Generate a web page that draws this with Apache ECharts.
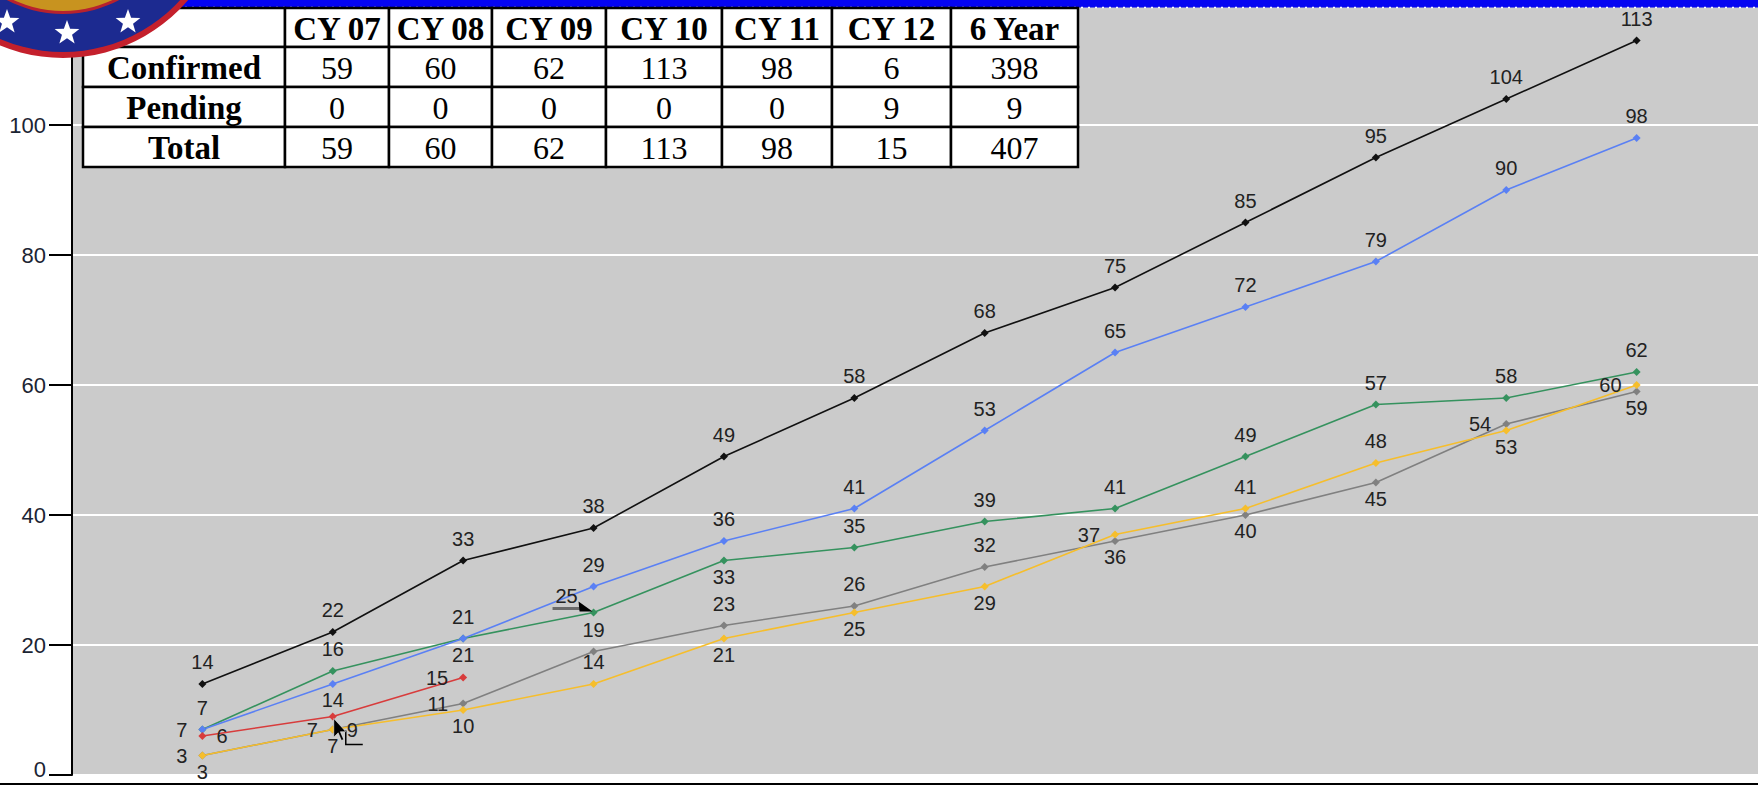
<!DOCTYPE html>
<html>
<head>
<meta charset="utf-8">
<script src="https://cdn.jsdelivr.net/npm/echarts@6/dist/echarts.min.js"></script>
<style>
html, body { margin: 0; padding: 0; background: #fff; }
#chart { width: 1758px; height: 785px; }
</style>
</head>
<body>
<div id="chart"></div>
<script>
// month index on the x axis
var months = [1, 2, 3, 4, 5, 6, 7, 8, 9, 10, 11, 12];
// cumulative counts per calendar year
var cy07 = [3, 7, 11, 19, 23, 26, 32, 36, 40, 45, 54, 59];
var cy08 = [3, 7, 10, 14, 21, 25, 29, 37, 41, 48, 53, 60];
var cy09 = [7, 16, 21, 25, 33, 35, 39, 41, 49, 57, 58, 62];
var cy10 = [14, 22, 33, 38, 49, 58, 68, 75, 85, 95, 104, 113];
var cy11 = [7, 14, 21, 29, 36, 41, 53, 65, 72, 79, 90, 98];
var cy12 = [6, 9, 15];

// summary table
var tableCols = ['CY 07', 'CY 08', 'CY 09', 'CY 10', 'CY 11', 'CY 12', '6 Year'];
var tableRows = ['Confirmed', 'Pending', 'Total'];
var confirmed = [59, 60, 62, 113, 98, 6, 398];
var pending = [0, 0, 0, 0, 0, 9, 9];
var total = [59, 60, 62, 113, 98, 15, 407];

// label side for each point: t top, b bottom, l left, r right, c callout
var seriesDefs = [
  {name: 'CY 07', values: cy07, color: '#808080', sides: 'bllttttbbblb'},
  {name: 'CY 08', values: cy08, color: '#f6be2c', sides: 'lbbtbbblttbl'},
  {name: 'CY 09', values: cy09, color: '#35925e', sides: 'ltbcbttttttt'},
  {name: 'CY 10', values: cy10, color: '#111111', sides: 'tttttttttttt'},
  {name: 'CY 11', values: cy11, color: '#5a80f4', sides: 'tbtttttttttt'},
  {name: 'CY 12', values: cy12, color: '#d83c3c', sides: 'rcl'}
];
var place = {
  t: {position: 'top', distance: 8},
  b: {position: 'bottom', distance: 2},
  l: {position: 'left', distance: 11},
  r: {position: 'right', distance: 10}
};
var callout = {
  'CY 09': {position: 'top', distance: 8, offset: [-27, 5]},
  'CY 12': {position: 'right', distance: 10, offset: [0, 13]}
};

var chart = echarts.init(document.getElementById('chart'), null, {renderer: 'svg'});

var option = {
  animation: false,
  grid: {
    left: 72, right: -9, top: -5, bottom: 10,
    show: true, backgroundColor: '#cbcbcb', borderWidth: 0,
    containLabel: false, outerBoundsMode: 'none'
  },
  xAxis: {type: 'value', min: 0, max: 13, show: false},
  yAxis: {
    type: 'value', min: 0, max: 120, interval: 20,
    axisLine: {show: true, lineStyle: {color: '#000', width: 2}},
    axisTick: {show: true, length: 23, lineStyle: {color: '#000', width: 2}},
    axisLabel: {
      margin: 26, color: '#1b2433', fontSize: 22, lineHeight: 17,
      fontFamily: 'Liberation Sans', showMaxLabel: false,
      // the bottom label sits a little higher so it stays inside the frame
      formatter: function (v) { return v === 0 ? '{z|0}' : String(v); },
      rich: {z: {fontSize: 22, lineHeight: 17, fontFamily: 'Liberation Sans', color: '#1b2433', padding: [0, 0, 12, 0]}}
    },
    splitLine: {show: true, lineStyle: {color: '#ffffff', width: 2}}
  },
  series: seriesDefs.map(function (s) {
    return {
      name: s.name,
      type: 'line',
      symbol: 'diamond',
      symbolSize: 8,
      itemStyle: {color: s.color},
      lineStyle: {color: s.color, width: 1.6},
      label: {show: true, color: '#222', fontSize: 20, fontFamily: 'Liberation Sans'},
      data: s.values.map(function (v, i) {
        var c = s.sides.charAt(i);
        return {value: [months[i], v], label: c === 'c' ? callout[s.name] : place[c]};
      })
    };
  })
};
chart.setOption(option);

// ---- decorations ----
function starPoints(cx, cy, R, r) {
  var pts = [];
  for (var k = 0; k < 10; k++) {
    var a = -Math.PI / 2 + k * Math.PI / 5;
    var d = k % 2 ? r : R;
    pts.push([cx + d * Math.cos(a), cy + d * Math.sin(a)]);
  }
  return pts;
}

var g = [];
// blue window strip at the top
g.push({type: 'rect', z: 50, shape: {x: 150, y: 0, width: 1608, height: 7.5}, style: {fill: '#0505f2'}});
g.push({type: 'line', z: 51, shape: {x1: 150, y1: 7.5, x2: 1758, y2: 7.5},
  style: {stroke: '#ffffff', lineWidth: 1.5, lineDash: [2, 5]}});
// bottom frame line
g.push({type: 'rect', z: 50, shape: {x: 0, y: 783, width: 1758, height: 2}, style: {fill: '#000'}});

// table
var colX = [83, 285, 389, 492, 606, 722, 832, 951, 1078];
var rowY = [8, 47, 87, 127, 167];
var tableData = [[''].concat(tableCols),
  [tableRows[0]].concat(confirmed),
  [tableRows[1]].concat(pending),
  [tableRows[2]].concat(total)];
tableData.forEach(function (row, r) {
  row.forEach(function (txt, c) {
    var x0 = colX[c], x1 = colX[c + 1], y0 = rowY[r], y1 = rowY[r + 1];
    g.push({type: 'rect', z: 60, shape: {x: x0, y: y0, width: x1 - x0, height: y1 - y0},
      style: {fill: '#fff', stroke: '#000', lineWidth: 2.5}});
    var bold = r === 0 || c === 0;
    g.push({type: 'text', z: 61, style: {
      text: String(txt), x: (x0 + x1) / 2, y: (y0 + y1) / 2 + 1,
      align: 'center', verticalAlign: 'middle', fill: '#000',
      font: (bold ? 'bold 33px' : '32px') + ' "Liberation Serif"'
    }});
  });
});

// seal in the corner
var lc = [63, -106];
g.push({type: 'circle', z: 70, shape: {cx: lc[0], cy: lc[1], r: 164}, style: {fill: '#c4202c'}});
g.push({type: 'circle', z: 71, shape: {cx: lc[0], cy: lc[1], r: 158}, style: {fill: '#1c2a90'}});
g.push({type: 'circle', z: 72, shape: {cx: lc[0], cy: lc[1], r: 120}, style: {fill: '#b8222e'}});
g.push({type: 'circle', z: 73, shape: {cx: lc[0], cy: lc[1], r: 117}, style: {fill: '#c8931f'}});
[[7, 22], [67, 33], [128, 22]].forEach(function (p) {
  g.push({type: 'polygon', z: 74, shape: {points: starPoints(p[0], p[1], 13, 5.3)}, style: {fill: '#fff'}});
});

// callout marks next to two labels
var p25 = chart.convertToPixel({seriesIndex: 2}, [months[3], cy09[3]]);
g.push({type: 'line', z: 20, shape: {x1: p25[0] - 41, y1: p25[1] - 4, x2: p25[0] - 12, y2: p25[1] - 4},
  style: {stroke: '#6a6a6a', lineWidth: 3}});
g.push({type: 'polygon', z: 21, shape: {points: [[p25[0] - 15, p25[1] - 11], [p25[0] - 1, p25[1] - 1], [p25[0] - 14, p25[1] - 1]]},
  style: {fill: '#000'}});

var p9 = chart.convertToPixel({seriesIndex: 5}, [months[1], cy12[1]]);
g.push({type: 'polyline', z: 20, shape: {points: [[p9[0] + 13, p9[1] + 14], [p9[0] + 13, p9[1] + 28], [p9[0] + 30, p9[1] + 28]]},
  style: {stroke: '#000', lineWidth: 1.5, fill: null}});
// mouse pointer left in the screenshot
var cur = [[0, 0], [0, 17], [4, 13], [7, 20], [9, 19], [6, 12], [11, 12]].map(function (q) {
  return [p9[0] + 1 + q[0] * 1.1, p9[1] + 2 + q[1] * 1.1];
});
g.push({type: 'polygon', z: 22, shape: {points: cur}, style: {fill: '#000', stroke: '#fff', lineWidth: 0.5}});

chart.setOption({graphic: g});
</script>
</body>
</html>
